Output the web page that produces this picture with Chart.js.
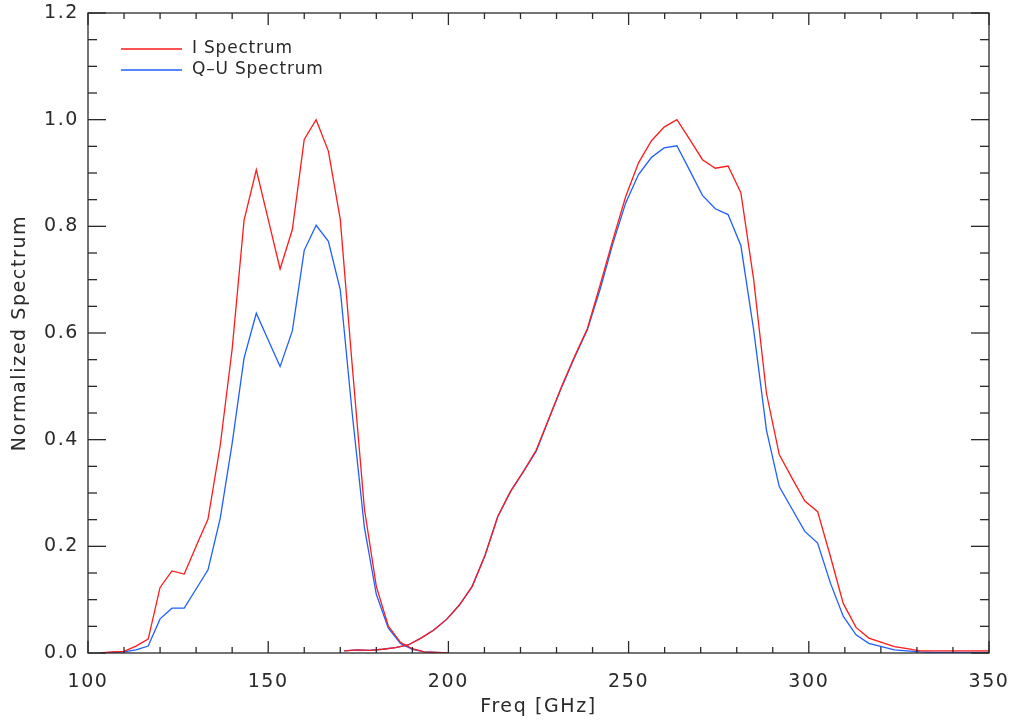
<!DOCTYPE html>
<html>
<head>
<meta charset="utf-8">
<script src="https://cdn.jsdelivr.net/npm/chart.js@4.4.0/dist/chart.umd.min.js"></script>
<style>
    html, body { margin: 0; padding: 0; background: #fff; }
    #wrap { width: 1013px; height: 720px; }
</style>
</head>
<body>
<div id="wrap"><canvas id="chart" width="1013" height="720"></canvas></div>
<script>
// Band 1 (lower frequency detector)
const freqLow = [103.3, 106.7, 110.0, 113.3, 116.7, 120.0, 123.3, 126.7, 130.0, 133.3,
                 136.7, 140.0, 143.3, 146.7, 150.0, 153.3, 156.7, 160.0, 163.3, 166.7,
                 170.0, 173.3, 176.7, 180.0, 183.3, 186.7, 190.0, 193.3, 196.7, 200.0];
const iLow = [0.000, 0.002, 0.003, 0.013, 0.026, 0.123, 0.154, 0.148, 0.200, 0.251,
              0.390, 0.570, 0.811, 0.906, 0.813, 0.720, 0.794, 0.963, 1.000, 0.941,
              0.813, 0.540, 0.270, 0.125, 0.051, 0.020, 0.008, 0.002, 0.001, 0.000];
const quLow = [0.000, 0.001, 0.002, 0.006, 0.013, 0.064, 0.084, 0.084, 0.120, 0.156,
               0.253, 0.393, 0.553, 0.637, 0.587, 0.537, 0.604, 0.755, 0.802, 0.772,
               0.681, 0.450, 0.235, 0.110, 0.047, 0.018, 0.007, 0.002, 0.001, 0.000];

// Band 2 (higher frequency detector)
const freqHigh = [171.1, 174.65, 178.2, 181.75, 185.3, 188.85, 192.4, 195.95, 199.5, 203.05,
                  206.6, 210.15, 213.7, 217.25, 220.8, 224.35, 227.9, 231.45, 235.0, 238.55,
                  242.1, 245.65, 249.2, 252.75, 256.3, 259.85, 263.4, 266.95, 270.5, 274.05,
                  277.6, 281.15, 284.7, 288.25, 291.8, 295.35, 298.9, 302.45, 306.0, 309.55,
                  313.1, 316.65, 320.2, 323.75, 327.3, 330.85, 334.4, 337.95, 341.5, 345.05,
                  348.6, 352.15];
const iHigh = [0.004, 0.006, 0.005, 0.007, 0.010, 0.015, 0.028, 0.043, 0.063, 0.090,
               0.125, 0.183, 0.256, 0.303, 0.340, 0.380, 0.440, 0.500, 0.556, 0.608,
               0.690, 0.775, 0.856, 0.919, 0.960, 0.986, 1.000, 0.963, 0.925, 0.909,
               0.913, 0.863, 0.700, 0.487, 0.372, 0.328, 0.285, 0.265, 0.181, 0.093,
               0.048, 0.028, 0.020, 0.012, 0.008, 0.004, 0.004, 0.004, 0.004, 0.004,
               0.004, 0.004];
const quHigh = [0.004, 0.006, 0.005, 0.007, 0.010, 0.015, 0.028, 0.043, 0.063, 0.090,
                0.125, 0.183, 0.256, 0.303, 0.340, 0.378, 0.439, 0.499, 0.554, 0.606,
                0.682, 0.768, 0.844, 0.897, 0.929, 0.947, 0.951, 0.905, 0.858, 0.833,
                0.822, 0.764, 0.606, 0.418, 0.312, 0.270, 0.228, 0.206, 0.131, 0.069,
                0.034, 0.018, 0.012, 0.006, 0.004, 0.002, 0.001, 0.001, 0.001, 0.001,
                0.001, 0.001];

const xTicks = [100, 150, 200, 250, 300, 350];
const yTicks = [0.0, 0.2, 0.4, 0.6, 0.8, 1.0, 1.2];
const seriesNames = ['I Spectrum', 'Q-U Spectrum'];

const RED = '#ff1a1a';
const BLUE = '#1f5fff';
const INK = '#2a2a2a';
const FONT = "'DejaVu Sans', sans-serif";

const toPoints = (xs, ys) => xs.map((x, i) => ({ x: x, y: ys[i] }));

const lineSet = (label, color, xs, ys) => ({
    label: label,
    data: toPoints(xs, ys),
    borderColor: color,
    backgroundColor: color,
    borderWidth: 1.3,
    pointRadius: 0,
    showLine: true,
    tension: 0
});

// the reference font is wide and airy, so spread the letters a bit
const spacing = {
    id: 'spacing',
    beforeDraw(chart) {
        chart.ctx.letterSpacing = '1.6px';
    }
};

// Inward ticks on all four sides, the frame and the inset legend
const frameTicks = {
    id: 'frameTicks',
    afterDraw(chart) {
        const { ctx, chartArea: a, scales: { x, y } } = chart;
        ctx.save();
        ctx.strokeStyle = INK;
        ctx.lineWidth = 1.3;
        const seg = (x1, y1, x2, y2) => {
            ctx.beginPath(); ctx.moveTo(x1, y1); ctx.lineTo(x2, y2); ctx.stroke();
        };
        for (let v = 100; v <= 350; v += 10) {
            const px = x.getPixelForValue(v);
            const len = v % 50 === 0 ? 12 : 6;
            seg(px, a.bottom, px, a.bottom - len);
            seg(px, a.top, px, a.top + len);
        }
        for (let k = 0; k <= 24; k++) {
            const py = y.getPixelForValue(k * 0.05);
            const len = k % 4 === 0 ? 18 : 9;
            seg(a.left, py, a.left + len, py);
            seg(a.right, py, a.right - len, py);
        }
        ctx.strokeRect(a.left, a.top, a.right - a.left, a.bottom - a.top);

        // legend
        const colors = [RED, BLUE];
        ctx.font = '17px ' + FONT;
        ctx.letterSpacing = '0.8px';
        ctx.textBaseline = 'middle';
        ctx.textAlign = 'left';
        seriesNames.forEach((name, i) => {
            const ly = a.top + 36 + i * 21;
            ctx.strokeStyle = colors[i];
            ctx.lineWidth = 1.3;
            seg(a.left + 33, ly, a.left + 94, ly);
            ctx.fillStyle = INK;
            ctx.fillText(name.replace('-', '\u2013'), a.left + 104, ly);
        });
        ctx.restore();
    }
};

new Chart(document.getElementById('chart'), {
    type: 'scatter',
    data: {
        datasets: [
            lineSet(seriesNames[0], RED, freqLow, iLow),
            lineSet(seriesNames[0], RED, freqHigh, iHigh),
            lineSet(seriesNames[1], BLUE, freqLow, quLow),
            lineSet(seriesNames[1], BLUE, freqHigh, quHigh)
        ]
    },
    options: {
        responsive: false,
        animation: false,
        layout: { padding: { top: 13, right: 24, left: 0, bottom: 0 } },
        plugins: {
            legend: { display: false },
            tooltip: { enabled: false }
        },
        scales: {
            x: {
                type: 'linear',
                min: 100,
                max: 350,
                afterBuildTicks: s => { s.ticks = xTicks.map(v => ({ value: v })); },
                afterFit: s => {
                    s.height = 67;
                    s.paddingLeft = 0;
                    s.paddingRight = 0;
                },
                grid: { display: false, drawTicks: false },
                border: { display: false },
                ticks: {
                    color: INK,
                    padding: 18,
                    maxRotation: 0,
                    font: { family: FONT, size: 19 },
                    callback: v => String(v)
                },
                title: {
                    display: true,
                    text: 'Freq [GHz]',
                    color: INK,
                    font: { family: FONT, size: 19 },
                    padding: { top: 0, bottom: 2 }
                }
            },
            y: {
                type: 'linear',
                min: 0,
                max: 1.2,
                afterBuildTicks: s => { s.ticks = yTicks.map(v => ({ value: v })); },
                afterFit: s => {
                    s.width = 88;
                    s.paddingTop = 0;
                    s.paddingBottom = 0;
                },
                grid: { display: false, drawTicks: false },
                border: { display: false },
                ticks: {
                    color: INK,
                    padding: 9,
                    font: { family: FONT, size: 19 },
                    callback: v => Number(v).toFixed(1)
                },
                title: {
                    display: true,
                    text: 'Normalized Spectrum',
                    color: INK,
                    font: { family: FONT, size: 19 },
                    padding: { top: 9, bottom: 0 }
                }
            }
        }
    },
    plugins: [spacing, frameTicks]
});
</script>
</body>
</html>
